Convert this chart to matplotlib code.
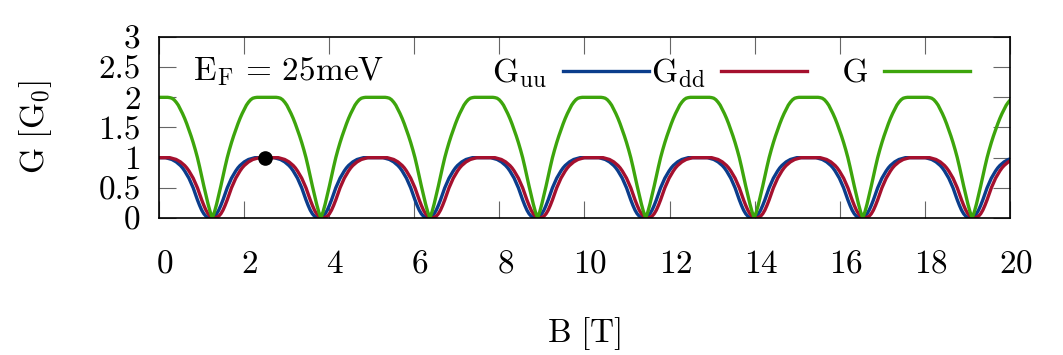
import numpy as np
import matplotlib
matplotlib.use('Agg')
import matplotlib.pyplot as plt
from matplotlib.transforms import ScaledTranslation

plt.rcParams['font.family'] = 'serif'
plt.rcParams['font.serif'] = ['cmr10', 'DejaVu Serif']
plt.rcParams['mathtext.fontset'] = 'cm'
plt.rcParams['axes.formatter.use_mathtext'] = True
plt.rcParams['font.size'] = 24

# positions of the conductance dips (G minima) [T]
dip_centres = [1.26, 3.81, 6.37, 8.90, 11.44, 13.99, 16.54, 19.11]
# spin-resolved dips sit slightly left (uu) / right (dd) of the total dip
shift_uu = -0.05
shift_dd = 0.05

# one dip, sampled at distance from its minimum (symmetric)
half_offsets = [0.0, 0.05, 0.1, 0.15, 0.2, 0.25, 0.3, 0.35, 0.4, 0.45, 0.5,
                0.55, 0.6, 0.65, 0.7, 0.75, 0.8, 0.85, 0.9, 0.95, 1.0, 1.05, 1.1]
g_half = [0.0, 0.10, 0.23, 0.38, 0.53, 0.69, 0.85, 1.0, 1.13, 1.25, 1.36,
          1.46, 1.56, 1.65, 1.73, 1.80, 1.87, 1.92, 1.96, 1.985, 1.995, 2.0, 2.0]
spin_half = [0.0, 0.01, 0.03, 0.07, 0.13, 0.21, 0.30, 0.40, 0.50, 0.58, 0.66,
             0.72, 0.78, 0.83, 0.87, 0.90, 0.93, 0.95, 0.97, 0.98, 0.99, 1.0, 1.0]
g_plateau = 2.0
spin_plateau = 1.0

# marked point
dot_b = [2.5]
dot_g = [1.0]

x_ticks = [0, 2, 4, 6, 8, 10, 12, 14, 16, 18, 20]
y_ticks = [0, 0.5, 1, 1.5, 2, 2.5, 3]
y_tick_labels = ['0', '0.5', '1', '1.5', '2', '2.5', '3']


def build(half_vals, shift, plateau):
    off = np.concatenate([-np.array(half_offsets[:0:-1]), half_offsets])
    vals = np.concatenate([half_vals[:0:-1], half_vals])
    b, g = [0.0], [plateau]
    for c in dip_centres:
        b.extend(c + shift + off)
        g.extend(vals)
    return np.array(b), np.array(g)


b_uu, g_uu = build(spin_half, shift_uu, spin_plateau)
b_dd, g_dd = build(spin_half, shift_dd, spin_plateau)
b_g, g_tot = build(g_half, 0.0, g_plateau)

fig = plt.figure(figsize=(10.63, 3.55), dpi=100)
ax = fig.add_axes([0.1493, 0.3859, 0.8009, 0.5099])

lw = 2.4
ax.plot(b_uu, g_uu, color='#0b3d8c', lw=lw, label=r'$\mathrm{G_{uu}}$')
ax.plot(b_dd, g_dd, color='#a5102e', lw=lw, label=r'$\mathrm{G_{dd}}$')
ax.plot(b_g, g_tot, color='#3da50c', lw=lw, label='   G')
ax.plot(dot_b, dot_g, 'o', color='black', ms=9.5, zorder=5)

ax.set_xlim(0, 20)
ax.set_ylim(0, 3)
ax.set_xticks(x_ticks)
ax.set_yticks(y_ticks, labels=y_tick_labels)
ax.tick_params(direction='in', length=12, width=0.8, color='#666666',
               top=True, right=True, labelsize=24)
ax.tick_params(axis='x', pad=23)
ax.tick_params(axis='y', pad=13)
for s in ax.spines.values():
    s.set_linewidth(1.2)

# gnuplot-ish slight shift of the x tick labels
for lab in ax.get_xticklabels():
    lab.set_transform(lab.get_transform() + ScaledTranslation(0.06, 0, fig.dpi_scale_trans))

ax.set_xlabel(r'$\mathrm{B\ [T]}$', fontsize=24, labelpad=26)
ax.set_ylabel(r'$\mathrm{G\ [G_0]}$', fontsize=24, labelpad=32)

ax.text(0.04, 0.762, r'$\mathrm{E_F}\,=\,\mathrm{25meV}$', transform=ax.transAxes,
        fontsize=24, va='baseline', ha='left')

ax.legend(loc='center left', bbox_to_anchor=(0.392, 0.80), ncol=3, frameon=False,
          markerfirst=False, handlelength=2.6, handletextpad=0.45,
          columnspacing=0.05, fontsize=24, borderpad=0, borderaxespad=0)

fig.savefig('out.png', dpi=100)
